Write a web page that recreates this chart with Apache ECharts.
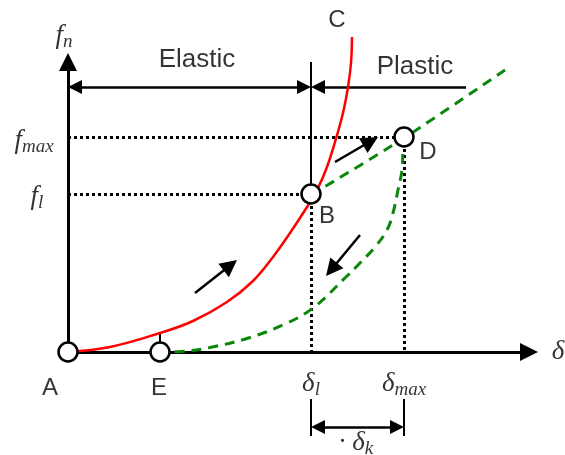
<!DOCTYPE html>
<html>
<head>
<meta charset="utf-8">
<script src="https://cdn.jsdelivr.net/npm/echarts@6/dist/echarts.min.js"></script>
<style>
  html, body { margin: 0; padding: 0; background: #ffffff; }
  #chart { width: 565px; height: 455px; }
</style>
</head>
<body>
<div id="chart"></div>
<script>
// Force–displacement sketch: loading A→B→C, plastic branch B→D, unloading D→E.
// Displacement δ runs right, force f runs up, origin at point A.
// One axis unit equals one screen pixel on both axes.

// key abscissae / ordinates
const deltaE = 92;      // E: residual displacement after unloading
const deltaL = 243;     // δ_l: elastic limit
const deltaMax = 336;   // δ_max
const forceL = 158;     // f_l
const forceMax = 215;   // f_max
const axisEndX = 470;   // tip of δ axis
const axisEndY = 299;   // tip of f_n axis

// curves
const loadingCurve = [[0, 0], [42, 5], [92, 19], [125, 31], [159, 50], [185, 71], [205, 95], [222, 119],
  [239, 145], [250, 164], [259, 185], [267, 210], [275, 239], [280, 265], [283, 289], [284, 315]];
const plasticBranch = [[243, 157], [336, 214], [437, 282]];
const unloadingCurve = [[336, 215], [335, 205], [334, 182], [330, 162], [325, 139], [319, 122], [307, 105],
  [292, 89], [279, 76], [245, 44], [217, 28], [182, 14.5], [142, 4.5], [112, 0.5], [92, 0]];

// marked points
const pointNames = ['A', 'E', 'B', 'D'];
const pointXs = [0, deltaE, deltaL, deltaMax];
const pointYs = [0, 0, forceL, forceMax];

// direction arrows along the paths: [from, to]
const directionArrows = [
  [[127, 59], [169, 92]],
  [[267, 190], [310, 215]],
  [[292, 117], [258, 76]]
];

// text labels: [x, y, rich text]
const labelItems = [
  [-18, -36, '{t|A}'],
  [91, -36, '{t|E}'],
  [259, 136, '{t|B}'],
  [269, 332, '{t|C}'],
  [360, 200, '{t|D}'],
  [129, 292, '{b|Elastic}'],
  [347, 285, '{b|Plastic}'],
  [-4, 316, '{m|f}{s|n}'],
  [-34, 211, '{m|f}{s|max}'],
  [-31, 155, '{m|f}{s|l}'],
  [490, 0, '{m|δ}'],
  [243, -32, '{m|δ}{s|l}'],
  [336, -32, '{m|δ}{s|max}'],
  [288, -91, '{m|· δ}{s|k}']
];

const dimTop = 290;      // top of the elastic/plastic divider
const dimY = 265;        // height of the elastic/plastic dimension line
const plasticEnd = 398;  // right end of the plastic dimension line
const kBarTop = -47, kBarBottom = -84, kDimY = -75;

const black = '#000000';
const green = '#0a870a';
const red = '#ff0000';

const serif = '"Liberation Serif", "Times New Roman", serif';
const sans = '"Liberation Sans", Arial, sans-serif';

// ECharts centres end symbols on the line ends; pull an end back by half
// the head size so the tip of the triangle lands on the given point.
function arrowSeg(from, to, headAtStart, headAtEnd, size) {
  const dx = to[0] - from[0], dy = to[1] - from[1];
  const len = Math.hypot(dx, dy) || 1;
  const ux = dx / len, uy = dy / len, h = size / 2;
  const a = headAtStart ? [from[0] + ux * h, from[1] + uy * h] : from;
  const b = headAtEnd ? [to[0] - ux * h, to[1] - uy * h] : to;
  return { coords: [a, b] };
}
const seg = (a, b) => ({ coords: [a, b] });

const chart = echarts.init(document.getElementById('chart'), null, { renderer: 'canvas' });

const axisHead = 18, dimHead = 14, dirHead = 17;

chart.setOption({
  animation: false,
  backgroundColor: '#ffffff',
  grid: { left: 0, right: 0, top: 0, bottom: 0 },
  xAxis: { type: 'value', min: -68, max: 497, show: false },
  yAxis: { type: 'value', min: -103, max: 352, show: false },
  series: [
    // dotted guide lines
    {
      type: 'lines', coordinateSystem: 'cartesian2d', silent: true, z: 1,
      lineStyle: { color: black, width: 3, type: [3, 3], opacity: 1 },
      data: [
        seg([0, forceMax], [deltaMax, forceMax]),
        seg([0, forceL], [deltaL, forceL]),
        seg([deltaL, forceL], [deltaL, 0]),
        seg([deltaMax, forceMax], [deltaMax, 0])
      ]
    },
    // axes with arrowheads
    {
      type: 'lines', coordinateSystem: 'cartesian2d', silent: true, z: 2,
      symbol: ['none', 'triangle'], symbolSize: axisHead,
      lineStyle: { color: black, width: 3, opacity: 1 },
      data: [
        arrowSeg([0, 0], [axisEndX, 0], false, true, axisHead),
        arrowSeg([0, 0], [0, axisEndY], false, true, axisHead)
      ]
    },
    // thin construction lines
    {
      type: 'lines', coordinateSystem: 'cartesian2d', silent: true, z: 2,
      lineStyle: { color: black, width: 2, opacity: 1 },
      data: [
        seg([deltaL, forceL], [deltaL, dimTop]),
        seg([deltaE, 8], [deltaE, 19]),
        seg([deltaL, kBarTop], [deltaL, kBarBottom]),
        seg([deltaMax, kBarTop], [deltaMax, kBarBottom])
      ]
    },
    // elastic dimension and δ_k dimension (heads at both ends)
    {
      type: 'lines', coordinateSystem: 'cartesian2d', silent: true, z: 2,
      symbol: ['triangle', 'triangle'], symbolSize: dimHead,
      lineStyle: { color: black, width: 2.5, opacity: 1 },
      data: [
        arrowSeg([0, dimY], [deltaL, dimY], true, true, dimHead),
        arrowSeg([deltaL, kDimY], [deltaMax, kDimY], true, true, dimHead)
      ]
    },
    // plastic dimension (head at the divider only)
    {
      type: 'lines', coordinateSystem: 'cartesian2d', silent: true, z: 2,
      symbol: ['triangle', 'none'], symbolSize: dimHead,
      lineStyle: { color: black, width: 2.5, opacity: 1 },
      data: [arrowSeg([deltaL, dimY], [plasticEnd, dimY], true, false, dimHead)]
    },
    // loading curve
    {
      type: 'line', data: loadingCurve, smooth: 0.4, showSymbol: false, silent: true, z: 3,
      lineStyle: { color: red, width: 2.5 }
    },
    // plastic branch
    {
      type: 'line', data: plasticBranch, smooth: 0.3, showSymbol: false, silent: true, z: 3,
      lineStyle: { color: green, width: 3, type: [10, 7] }
    },
    // unloading curve
    {
      type: 'line', data: unloadingCurve, smooth: 0.4, showSymbol: false, silent: true, z: 3,
      lineStyle: { color: green, width: 3, type: [10, 7] }
    },
    // direction arrows
    {
      type: 'lines', coordinateSystem: 'cartesian2d', silent: true, z: 4,
      symbol: ['none', 'triangle'], symbolSize: dirHead,
      lineStyle: { color: black, width: 2.5, opacity: 1 },
      data: directionArrows.map(a => arrowSeg(a[0], a[1], false, true, dirHead))
    },
    // marked points
    {
      type: 'scatter', silent: true, z: 6,
      symbol: 'circle', symbolSize: 19,
      itemStyle: { color: '#ffffff', borderColor: black, borderWidth: 2.5, opacity: 1 },
      data: pointNames.map((n, i) => ({ name: n, value: [pointXs[i], pointYs[i]] }))
    },
    // text
    {
      type: 'scatter', silent: true, z: 7, symbolSize: 0,
      data: labelItems.map(l => ({ value: [l[0], l[1]], text: l[2] })),
      label: {
        show: true, position: 'inside',
        formatter: p => p.data.text,
        rich: {
          t: { fontFamily: sans, fontSize: 24, color: black },
          b: { fontFamily: sans, fontSize: 26, color: black },
          m: { fontFamily: serif, fontStyle: 'italic', fontSize: 27, color: black, lineHeight: 30 },
          s: { fontFamily: serif, fontStyle: 'italic', fontSize: 19, color: black, lineHeight: 16, verticalAlign: 'bottom' }
        }
      }
    }
  ]
});
</script>
</body>
</html>
